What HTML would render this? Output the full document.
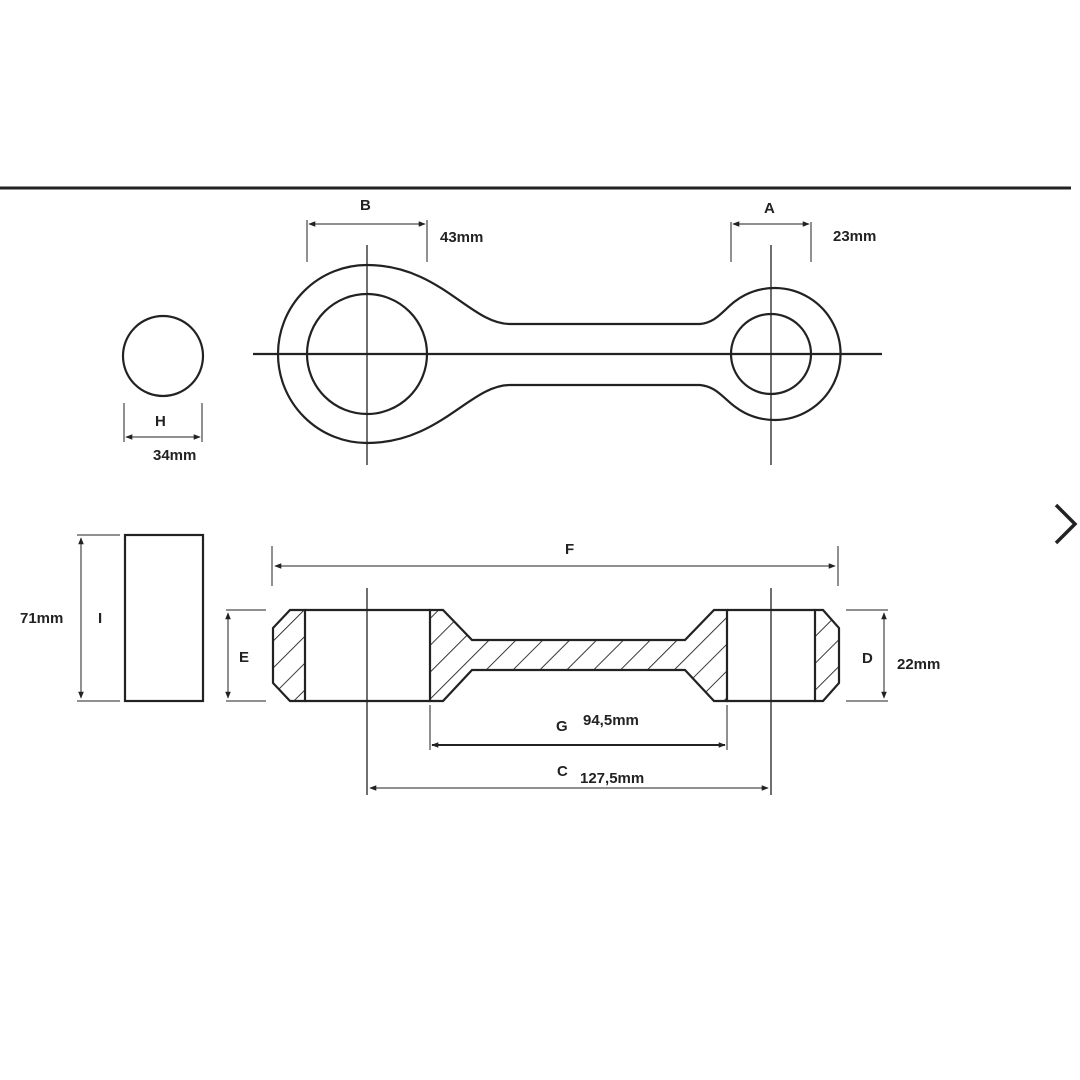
<!DOCTYPE html>
<html><head><style>body{margin:0;background:#fff}svg{display:block}text{font-family:"Liberation Sans",sans-serif;font-weight:bold;font-size:15px;fill:#222}</style></head><body>
<svg width="1080" height="1080" viewBox="0 0 1080 1080">
<defs>
<pattern id="h" patternUnits="userSpaceOnUse" width="19" height="19" patternTransform="rotate(45)"><line x1="0" y1="0" x2="0" y2="19" stroke="#222" stroke-width="1.8"/></pattern>
<marker id="a" viewBox="0 0 10 10" refX="9" refY="5" markerWidth="7" markerHeight="7" markerUnits="userSpaceOnUse" orient="auto-start-reverse"><path d="M0,1 L10,5 L0,9z" fill="#222"/></marker>
</defs>
<g stroke="#222" fill="none" stroke-width="2.2">
<line x1="0" y1="188" x2="1071" y2="188" stroke-width="3"/>
<circle cx="163" cy="356" r="40"/>
<line x1="124" y1="403" x2="124" y2="442" stroke-width="1"/>
<line x1="202" y1="403" x2="202" y2="442" stroke-width="1"/>
<line x1="126" y1="437" x2="200" y2="437" stroke-width="1" marker-start="url(#a)" marker-end="url(#a)"/>
<path d="M510,324 L700,324 C720,322 725,305 745,295 A66,66 0 1 1 745,413 C725,403 720,387 700,385 L510,385 C470,385 440,443 367,443 A89,89 0 1 1 367,265 C440,265 470,324 510,324 Z"/>
<circle cx="367" cy="354" r="60"/>
<circle cx="771" cy="354" r="40"/>
<line x1="253" y1="354" x2="882" y2="354"/>
<line x1="367" y1="245" x2="367" y2="465" stroke-width="1.3"/>
<line x1="771" y1="245" x2="771" y2="465" stroke-width="1.3"/>
<line x1="307" y1="220" x2="307" y2="262" stroke-width="1"/>
<line x1="427" y1="220" x2="427" y2="262" stroke-width="1"/>
<line x1="309" y1="224" x2="425" y2="224" stroke-width="1" marker-start="url(#a)" marker-end="url(#a)"/>
<line x1="731" y1="222" x2="731" y2="262" stroke-width="1"/>
<line x1="811" y1="222" x2="811" y2="262" stroke-width="1"/>
<line x1="733" y1="224" x2="809" y2="224" stroke-width="1" marker-start="url(#a)" marker-end="url(#a)"/>
<rect x="125" y="535" width="78" height="166"/>
<line x1="77" y1="535" x2="120" y2="535" stroke-width="1"/>
<line x1="77" y1="701" x2="120" y2="701" stroke-width="1"/>
<line x1="81" y1="538" x2="81" y2="698" stroke-width="1" marker-start="url(#a)" marker-end="url(#a)"/>
<line x1="272" y1="546" x2="272" y2="586" stroke-width="1"/>
<line x1="838" y1="546" x2="838" y2="586" stroke-width="1"/>
<line x1="275" y1="566" x2="835" y2="566" stroke-width="1" marker-start="url(#a)" marker-end="url(#a)"/>
<path d="M290,610 L305,610 L305,701 L290,701 L273,683 L273,628 Z" fill="url(#h)"/>
<path d="M430,610 L443,610 L472,640 L685,640 L714,610 L727,610 L727,701 L714,701 L685,670 L472,670 L443,701 L430,701 Z" fill="url(#h)"/>
<path d="M815,610 L823,610 L839,628 L839,683 L823,701 L815,701 Z" fill="url(#h)"/>
<line x1="305" y1="610" x2="430" y2="610"/><line x1="305" y1="701" x2="430" y2="701"/>
<line x1="727" y1="610" x2="815" y2="610"/><line x1="727" y1="701" x2="815" y2="701"/>
<line x1="367" y1="588" x2="367" y2="795" stroke-width="1.3"/>
<line x1="771" y1="588" x2="771" y2="795" stroke-width="1.3"/>
<line x1="226" y1="610" x2="266" y2="610" stroke-width="1"/>
<line x1="226" y1="701" x2="266" y2="701" stroke-width="1"/>
<line x1="228" y1="613" x2="228" y2="698" stroke-width="1" marker-start="url(#a)" marker-end="url(#a)"/>
<line x1="846" y1="610" x2="888" y2="610" stroke-width="1"/>
<line x1="846" y1="701" x2="888" y2="701" stroke-width="1"/>
<line x1="884" y1="613" x2="884" y2="698" stroke-width="1" marker-start="url(#a)" marker-end="url(#a)"/>
<line x1="430" y1="705" x2="430" y2="750" stroke-width="1"/>
<line x1="727" y1="705" x2="727" y2="750" stroke-width="1"/>
<line x1="432" y1="745" x2="725" y2="745" stroke-width="2" marker-start="url(#a)" marker-end="url(#a)"/>
<line x1="370" y1="788" x2="768" y2="788" stroke-width="1" marker-start="url(#a)" marker-end="url(#a)"/>
<path d="M1056,505 L1075,524 L1056,543" stroke-width="3.5"/>
</g>
<text x="360" y="210">B</text><text x="440" y="242">43mm</text>
<text x="764" y="213">A</text><text x="833" y="241">23mm</text>
<text x="155" y="426">H</text><text x="153" y="460">34mm</text>
<text x="20" y="623">71mm</text><text x="98" y="623">I</text>
<text x="565" y="554">F</text>
<text x="239" y="662">E</text>
<text x="862" y="663">D</text><text x="897" y="669">22mm</text>
<text x="556" y="731">G</text><text x="583" y="725">94,5mm</text>
<text x="557" y="776">C</text><text x="580" y="783">127,5mm</text>
</svg>
</body></html>
